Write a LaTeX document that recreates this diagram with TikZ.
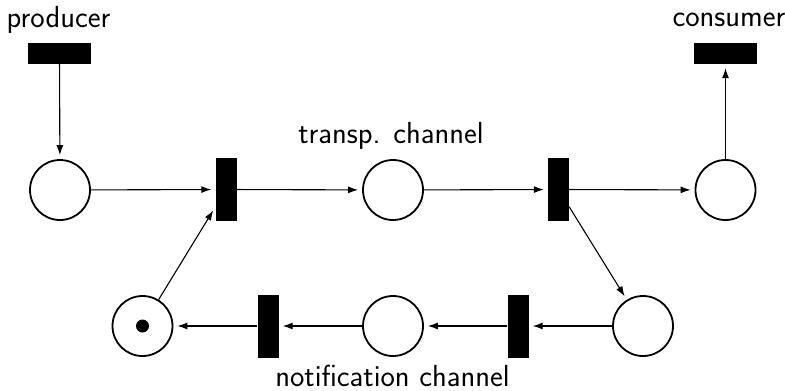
\documentclass[tikz,border=0pt]{standalone}
\usetikzlibrary{arrows.meta}
\begin{document}
\begin{tikzpicture}[x=1pt,y=-1pt,
  place/.style={circle,draw,line width=1.8pt,minimum size=60pt,inner sep=0pt},
  vtrans/.style={rectangle,fill=black,draw=none,minimum width=21pt,minimum height=63pt,inner sep=0pt},
  htrans/.style={rectangle,fill=black,draw=none,minimum width=63pt,minimum height=21pt,inner sep=0pt},
  arc/.style={line width=1.1pt,-{Latex[length=10pt,width=7pt]},shorten >=4pt},
  lbl/.style={font=\fontsize{30.5}{36}\selectfont\sffamily,anchor=base,inner sep=0pt}]
\useasboundingbox (0,0) rectangle (785,391);
\node[htrans] (prod) at (59.5,53.5) {};
\node[htrans] (cons) at (725.5,53.5) {};
\node[place] (p0) at (60,190) {};
\node[vtrans] (t1) at (226,189.5) {};
\node[place] (p1) at (393,190) {};
\node[vtrans] (t2) at (558.5,189.5) {};
\node[place] (p2) at (725.5,190) {};
\node[place] (p3) at (643,326) {};
\node[vtrans] (t3) at (518,326) {};
\node[place] (p4) at (393,326) {};
\node[vtrans] (t4) at (268,326) {};
\node[place] (p5) at (142.5,326) {};
\fill (p5.center) circle (6.5pt);
\node[lbl] (lprod) at (58.5,27) {producer};
\node[lbl] (lcons) at (729,26) {consumer};
\node[lbl] (ltransp) at (391,143) {transp. channel};
\node[lbl] (lnotif) at (392.5,386) {notification channel};
\draw[arc] (prod) -- (p0);
\draw[arc] (p0) -- (t1);
\draw[arc] (t1) -- (p1);
\draw[arc] (p1) -- (t2);
\draw[arc] (t2) -- (p2);
\draw[arc] (p2) -- (cons);
\draw[arc] (t2) -- (p3);
\draw[arc] (p3) -- (t3);
\draw[arc] (t3) -- (p4);
\draw[arc] (p4) -- (t4);
\draw[arc] (t4) -- (p5);
\draw[arc] (p5) -- (t1);
\end{tikzpicture}
\end{document}
